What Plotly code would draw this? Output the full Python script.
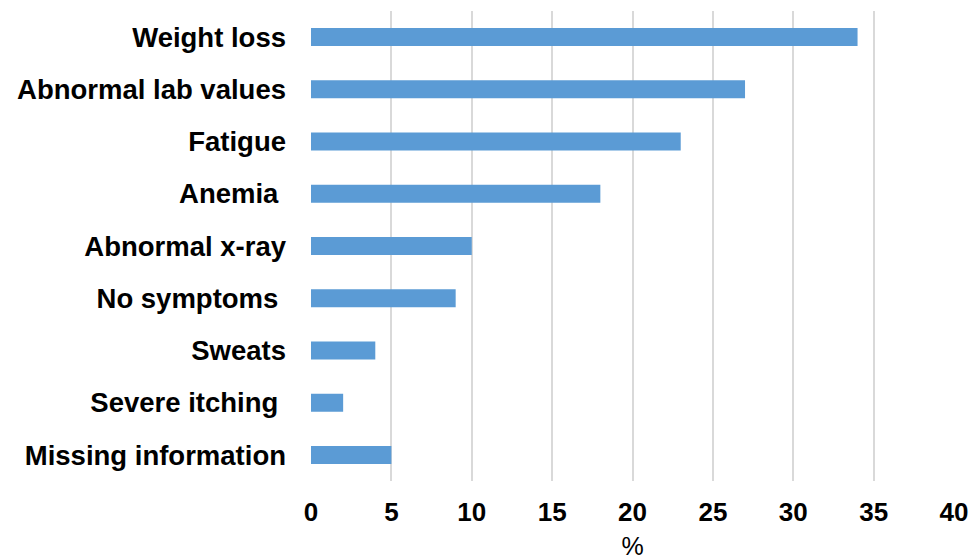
import plotly.graph_objects as go

categories = ["Weight loss", "Abnormal lab values", "Fatigue", "Anemia\u00a0", "Abnormal x-ray",
              "No symptoms\u00a0", "Sweats", "Severe itching\u00a0", "Missing information"]
values = [34, 27, 23, 18, 10, 9, 4, 2, 5]
x_ticks = [0, 5, 10, 15, 20, 25, 30, 35, 40]
x_title = "%"

FONT = "Liberation Sans, Arial, sans-serif"

fig = go.Figure(go.Bar(
    y=categories, x=values, orientation="h",
    marker=dict(color="#5b9bd5", line=dict(width=0)),
))

fig.update_layout(
    width=971, height=560,
    margin=dict(l=311, r=17, t=11, b=79),
    paper_bgcolor="white", plot_bgcolor="white",
    bargap=0.655,
    showlegend=False,
    font=dict(family=FONT, size=26, color="black"),
)
fig.update_yaxes(
    autorange="reversed", showgrid=False, zeroline=False, showline=False,
    ticks="", ticklabelstandoff=24, automargin=False,
    tickfont=dict(family=FONT, size=27.5, color="black", weight="bold"),
)
fig.update_xaxes(
    range=[0, 40], tickvals=x_ticks, showgrid=True, gridcolor="#d9d9d9", gridwidth=2,
    zeroline=False, showline=False, ticks="", ticklabelstandoff=13, automargin=False,
    tickfont=dict(family=FONT, size=26, color="black", weight="bold"),
    title=dict(text=x_title, font=dict(family=FONT, size=25, color="black"), standoff=14),
)

fig.write_html("out.html", config={"displayModeBar": False},
               post_script="document.body.style.margin='0';")
